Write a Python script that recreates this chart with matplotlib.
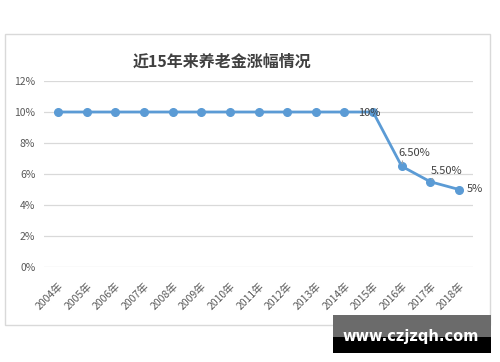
import matplotlib
matplotlib.use('Agg')
import matplotlib.pyplot as plt
from matplotlib.patches import Rectangle

plt.rcParams['font.family'] = ['Noto Sans CJK SC', 'DejaVu Sans']

# data
years = ['2004年', '2005年', '2006年', '2007年', '2008年', '2009年', '2010年', '2011年',
         '2012年', '2013年', '2014年', '2015年', '2016年', '2017年', '2018年']
rates = [10, 10, 10, 10, 10, 10, 10, 10, 10, 10, 10, 10, 6.5, 5.5, 5]
labels = {11: '10%', 12: '6.50%', 13: '5.50%', 14: '5%'}
y_ticks = [0, 2, 4, 6, 8, 10, 12]
title = '近15年来养老金涨幅情况'

W, H = 500, 362
fig = plt.figure(figsize=(W / 100, H / 100), dpi=100)

# outer chart border
fig.patches.append(Rectangle((5 / W, 1 - 325 / H), 485 / W, 291 / H, transform=fig.transFigure,
                             fill=False, edgecolor='#D9D9D9', lw=1))

ax = fig.add_axes([43.7 / W, 1 - 267 / H, 429.6 / W, 186 / H])
x = list(range(len(years)))
ax.plot(x, rates, color='#5B9BD5', lw=2.0, marker='o', markersize=5.5, zorder=3)

ax.set_xlim(-0.5, len(years) - 0.5)
ax.set_ylim(0, 12)
ax.set_yticks(y_ticks)
ax.set_yticklabels([f'{v}%' for v in y_ticks])
ax.set_xticks(x)
ax.set_xticklabels(years, rotation=45, ha='right', va='top', rotation_mode='anchor')
ax.tick_params(axis='both', length=0, labelsize=7.5, labelcolor='#595959')
ax.tick_params(axis='y', pad=6)
ax.tick_params(axis='x', pad=10)
ax.grid(axis='y', color='#D9D9D9', lw=0.9)
ax.set_axisbelow(True)
for s in ax.spines.values():
    s.set_visible(False)

# data labels (offsets in points)
offsets = {11: (-3, -1), 12: (9, 9.5), 13: (11.5, 8), 14: (11.5, 0)}
for i, txt in labels.items():
    dx, dy = offsets[i]
    arrow = None
    if i in (12, 13):
        arrow = dict(arrowstyle='-', color='#A6A6A6', lw=0.8, shrinkA=0, shrinkB=2, relpos=(0.15, 0.1))
    ax.annotate(txt, (x[i], rates[i]), xytext=(dx, dy), textcoords='offset points',
                ha='center', va='center', fontsize=8, color='#404040', arrowprops=arrow, zorder=4)

fig.text(222 / W, 1 - 62 / H, title, ha='center', va='center', fontsize=11.5,
         fontweight='bold', color='#404040')

# watermark box
fig.patches.append(Rectangle((333 / W, 1 - 337 / H), 158 / W, 22 / H, transform=fig.transFigure,
                             facecolor='#6B6B6B', edgecolor='none', zorder=5))
fig.patches.append(Rectangle((333 / W, 1 - 353 / H), 158 / W, 16 / H, transform=fig.transFigure,
                             facecolor='black', edgecolor='none', zorder=5))
fig.text(411 / W, 1 - 336 / H, 'www.czjzqh.com', ha='center', va='center', fontsize=10.5,
         fontweight='bold', color='white', family='DejaVu Sans', zorder=6)

fig.savefig('out.png', dpi=100)
